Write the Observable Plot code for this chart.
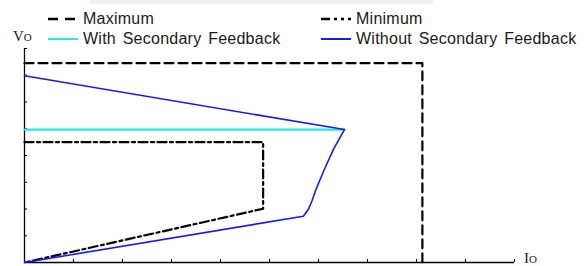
<!DOCTYPE html>
<html>
<head>
<meta charset="utf-8">
<script src="https://cdn.jsdelivr.net/npm/d3@7"></script>
<script src="https://cdn.jsdelivr.net/npm/@observablehq/plot@0.6"></script>
<style>
  html, body { margin: 0; padding: 0; background: white; }
  #wrap { position: relative; width: 586px; height: 266px; overflow: hidden; font-family: "Liberation Sans", Arial, sans-serif; }
  #chart { position: absolute; left: 0; top: 0; }
  .leg { position: absolute; font-size: 16px; color: #1a1a1a; white-space: nowrap; line-height: 1; word-spacing: 2px; letter-spacing: 0.25px; }
  .sw { position: absolute; }
  .ax { position: absolute; font-family: "Liberation Serif", "Times New Roman", serif; color: #222; white-space: nowrap; line-height: 1; }
  #band { position: absolute; left: 90px; top: 0; width: 343px; height: 4px; background: #f3f3f3; }
</style>
</head>
<body>
<div id="wrap">
  <div id="chart"></div>
  <div id="band"></div>
</div>
<script>
// ---- data ----
const xTicks = [1, 2, 3, 4, 5, 6, 7, 8, 9, 10];
const yTicks = [1, 2, 3, 4, 5, 6, 7, 8];

const maximumX = [0, 8.12, 8.12];
const maximumY = [7.45, 7.45, 0];

const minimumX = [0, 4.87, 4.87, 0];
const minimumY = [4.50, 4.50, 2.01, 0];

const withFbX = [0, 6.53];
const withFbY = [4.97, 4.97];

const withoutFbX = [0, 6.53, 6.31, 6.11, 6.01, 5.94, 5.87, 5.80, 5.73, 5.69, 0];
const withoutFbY = [6.98, 4.97, 4.25, 3.44, 3.00, 2.69, 2.32, 2.01, 1.82, 1.73, 0];

const seriesNames = ["Maximum", "Minimum", "With Secondary Feedback", "Without Secondary Feedback"];
const yAxisLabel = ["V", "O"];
const xAxisLabel = ["I", "O"];

// ---- build ----
const pts = (xs, ys) => xs.map((x, i) => ({x, y: ys[i]}));

const styles = {
  "Maximum": {stroke: "#000", strokeWidth: 2.2, strokeDasharray: "9,5"},
  "Minimum": {stroke: "#000", strokeWidth: 2.2, strokeDasharray: "9,3.5,3,3.5"},
  "With Secondary Feedback": {stroke: "#22eaea", strokeWidth: 2.2},
  "Without Secondary Feedback": {stroke: "#1a1aee", strokeWidth: 1.6}
};

const H = 266, mT = 48, mB = 4, mL = 24, mR = 72;
const plotH = H - mT - mB, plotW = 586 - mL - mR;

const chart = Plot.plot({
  width: 586, height: H,
  marginLeft: mL, marginRight: mR, marginTop: mT, marginBottom: mB,
  x: {domain: [0, 10], axis: null},
  y: {domain: [0, 8], axis: null},
  style: {background: "transparent", overflow: "visible"},
  marks: [
    Plot.ruleX([0], {stroke: "#000", strokeWidth: 1.3}),
    Plot.ruleY([0], {stroke: "#000", strokeWidth: 1.3}),
    Plot.tickX(xTicks, {x: d => d, insetTop: plotH - 3, stroke: "#000", strokeWidth: 1}),
    Plot.tickY(yTicks, {y: d => d, insetRight: plotW - 3, stroke: "#000", strokeWidth: 1}),
    Plot.line(pts(maximumX, maximumY), {x: "x", y: "y", ...styles["Maximum"], curve: "linear"}),
    Plot.line(pts(minimumX, minimumY), {x: "x", y: "y", ...styles["Minimum"], curve: "linear"}),
    Plot.line(pts(withFbX, withFbY), {x: "x", y: "y", ...styles["With Secondary Feedback"]}),
    Plot.line(pts(withoutFbX, withoutFbY), {x: "x", y: "y", ...styles["Without Secondary Feedback"], strokeLinejoin: "round"})
  ]
});
document.getElementById("chart").appendChild(chart);

// ---- legend (HTML overlay) ----
const wrap = document.getElementById("wrap");
const legendPos = [
  {sx: 48, tx: 83, cy: 19},
  {sx: 321, tx: 356, cy: 19},
  {sx: 48, tx: 83, cy: 39},
  {sx: 321, tx: 356, cy: 39}
];
const swatchDash = {
  "Maximum": "10,7",
  "Minimum": "9,4,3,4,3,4",
  "With Secondary Feedback": null,
  "Without Secondary Feedback": null
};
seriesNames.forEach((name, i) => {
  const p = legendPos[i];
  const st = styles[name];
  const svg = document.createElementNS("http://www.w3.org/2000/svg", "svg");
  svg.setAttribute("class", "sw");
  svg.setAttribute("width", 31);
  svg.setAttribute("height", 6);
  svg.style.left = p.sx + "px";
  svg.style.top = (p.cy - 3) + "px";
  const ln = document.createElementNS("http://www.w3.org/2000/svg", "line");
  ln.setAttribute("x1", 0); ln.setAttribute("x2", 30);
  ln.setAttribute("y1", 3); ln.setAttribute("y2", 3);
  ln.setAttribute("stroke", st.stroke);
  ln.setAttribute("stroke-width", name.startsWith("With") ? 2 : 2.4);
  if (swatchDash[name]) ln.setAttribute("stroke-dasharray", swatchDash[name]);
  svg.appendChild(ln);
  wrap.appendChild(svg);
  const t = document.createElement("div");
  t.className = "leg";
  t.textContent = name;
  t.style.left = p.tx + "px";
  t.style.top = (p.cy - 8) + "px";
  wrap.appendChild(t);
});

// axis labels
function axLabel(parts, left, top) {
  const d = document.createElement("div");
  d.className = "ax";
  d.style.left = left + "px";
  d.style.top = top + "px";
  const a = document.createElement("span");
  a.style.fontSize = "15px";
  a.textContent = parts[0];
  const b = document.createElement("span");
  b.style.fontSize = "11px";
  b.textContent = parts[1];
  d.appendChild(a); d.appendChild(b);
  wrap.appendChild(d);
}
axLabel(yAxisLabel, 13, 28);
axLabel(xAxisLabel, 524, 250);
</script>
</body>
</html>
